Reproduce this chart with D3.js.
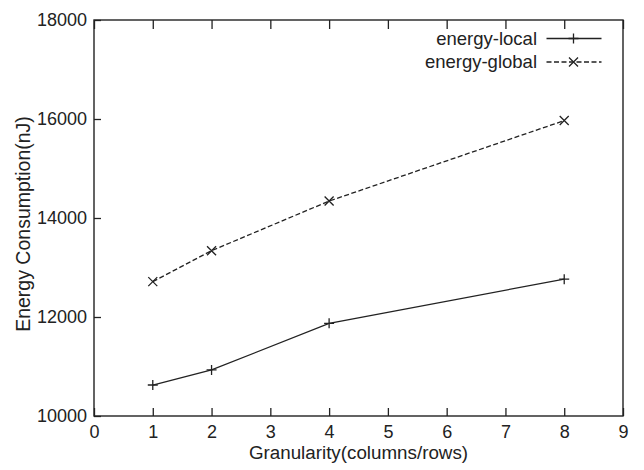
<!DOCTYPE html>
<html>
<head>
<meta charset="utf-8">
<script src="https://cdn.jsdelivr.net/npm/d3@7"></script>
<style>
  html, body { margin: 0; padding: 0; background: #fff; }
  svg { display: block; }
  text { font-family: "Liberation Sans", Arial, Helvetica, sans-serif; fill: #222; }
</style>
</head>
<body>
<svg id="chart" width="644" height="470"></svg>
<script>
const granularity = [1, 2, 4, 8];
const energyLocal = [10626, 10930, 11872, 12765];
const energyGlobal = [12714, 13340, 14342, 15968];
const xTicks = [0, 1, 2, 3, 4, 5, 6, 7, 8, 9];
const yTicks = [10000, 12000, 14000, 16000, 18000];
const seriesNames = ["energy-local", "energy-global"];
const xTitle = "Granularity(columns/rows)";
const yTitle = "Energy Consumption(nJ)";

const W = 644, H = 470;
const m = { left: 94, right: 623, top: 20, bottom: 416 };
const ink = "#222";
const svg = d3.select("#chart");

const x = d3.scaleLinear().domain([0, 9]).range([m.left, m.right]);
const y = d3.scaleLinear().domain([10000, 18000]).range([m.bottom, m.top]);

// axes with inward ticks
const fontSize = 18;
const gx = svg.append("g").attr("transform", `translate(0,${m.bottom})`)
  .call(d3.axisBottom(x).tickValues(xTicks).tickFormat(d3.format("d")).tickSizeInner(-8).tickSizeOuter(0).tickPadding(6));
const gxTop = svg.append("g").attr("transform", `translate(0,${m.top})`)
  .call(d3.axisTop(x).tickValues(xTicks).tickFormat("").tickSizeInner(-9).tickSizeOuter(0));
const gy = svg.append("g").attr("transform", `translate(${m.left},0)`)
  .call(d3.axisLeft(y).tickValues(yTicks).tickFormat(d3.format("d")).tickSizeInner(-7).tickSizeOuter(0).tickPadding(7));
[gx, gxTop, gy].forEach(g => {
  g.select(".domain").remove();
  g.selectAll(".tick line").attr("stroke", ink).attr("stroke-width", 1.3);
  g.selectAll("text").attr("font-size", fontSize).attr("fill", ink)
    .style("font-family", "'Liberation Sans', Arial, sans-serif");
});
gx.selectAll("text").attr("dy", "0.71em").attr("y", 9);

// frame
svg.append("rect")
  .attr("x", m.left).attr("y", m.top)
  .attr("width", m.right - m.left).attr("height", m.bottom - m.top)
  .attr("fill", "none").attr("stroke", ink).attr("stroke-width", 1.4);

// titles
svg.append("text")
  .attr("x", (m.left + m.right) / 2).attr("y", 459)
  .attr("text-anchor", "middle").attr("font-size", 18.8)
  .text(xTitle);
svg.append("text")
  .attr("transform", `translate(30,${(m.top + m.bottom) / 2 + 6}) rotate(-90)`)
  .attr("text-anchor", "middle").attr("font-size", 19.5)
  .text(yTitle);

const line = d3.line().x((d, i) => x(granularity[i])).y(d => y(d));

function plus(g, cx, cy, s) {
  g.append("path").attr("d", `M${cx - s},${cy}H${cx + s}M${cx},${cy - s}V${cy + s}`)
    .attr("stroke", ink).attr("stroke-width", 1.3).attr("fill", "none");
}
function cross(g, cx, cy, s) {
  g.append("path").attr("d", `M${cx - s},${cy - s}L${cx + s},${cy + s}M${cx - s},${cy + s}L${cx + s},${cy - s}`)
    .attr("stroke", ink).attr("stroke-width", 1.3).attr("fill", "none");
}

const series = [
  { name: seriesNames[0], values: energyLocal, dash: null, marker: plus },
  { name: seriesNames[1], values: energyGlobal, dash: "5,2.5", marker: cross }
];

const plot = svg.append("g");
series.forEach((s, k) => {
  plot.append("path").datum(s.values)
    .attr("d", line).attr("fill", "none").attr("stroke", ink)
    .attr("stroke-width", 1.3).attr("stroke-dasharray", s.dash);
  s.values.forEach((v, i) => s.marker(plot, x(granularity[i]), y(v), k === 0 ? 5 : 4.5));

  // legend
  const ly = 38.5 + k * 23.5;
  svg.append("text").attr("x", 537).attr("y", ly).attr("dy", "0.35em")
    .attr("text-anchor", "end").attr("font-size", 18.5).text(s.name);
  svg.append("line").attr("x1", 546.5).attr("x2", 601.5).attr("y1", ly).attr("y2", ly)
    .attr("stroke", ink).attr("stroke-width", 1.3).attr("stroke-dasharray", s.dash);
  s.marker(svg, 573.5, ly, k === 0 ? 5 : 4.5);
});
</script>
</body>
</html>
